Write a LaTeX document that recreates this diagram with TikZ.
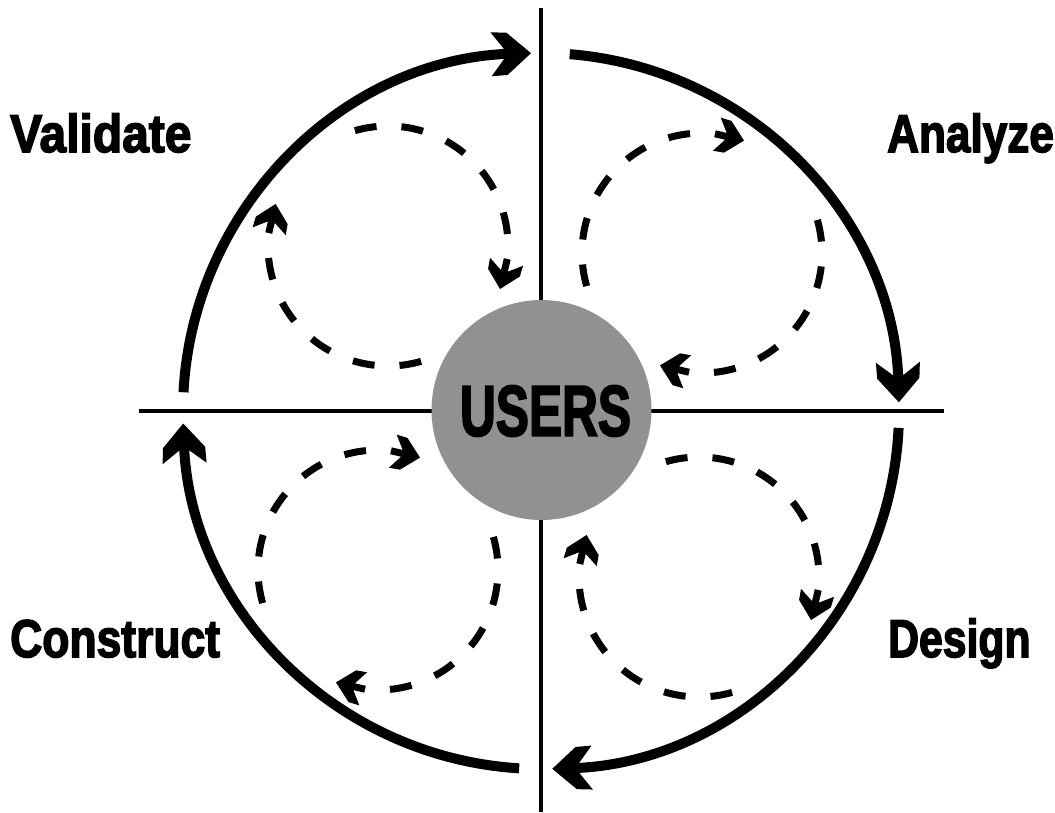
\documentclass[tikz,border=0pt]{standalone}
\usepackage{fontspec}
\setmainfont[FakeBold=3]{Liberation Sans}
\usetikzlibrary{arrows.meta}
\pgfdeclarearrow{
  name=Chev,
  parameters={\the\pgfarrowlength,\the\pgfarrowwidth},
  setup code={
    \pgfarrowssettipend{0pt}
    \pgfarrowssetlineend{-.5\pgfarrowlength}
    \pgfarrowssetvisualbackend{-\pgfarrowlength}
    \pgfarrowssetbackend{-\pgfarrowlength}
    \pgfarrowshullpoint{0pt}{0pt}
    \pgfarrowsupperhullpoint{-\pgfarrowlength}{.5\pgfarrowwidth}
  },
  drawing code={
    \pgfpathmoveto{\pgfqpoint{0pt}{0pt}}
    \pgfpathlineto{\pgfpoint{-.6\pgfarrowlength}{.48\pgfarrowwidth}}
    \pgfpathlineto{\pgfpoint{-\pgfarrowlength}{.5\pgfarrowwidth}}
    \pgfpathlineto{\pgfpoint{-.68\pgfarrowlength}{.12\pgfarrowwidth}}
    \pgfpathlineto{\pgfpoint{-.68\pgfarrowlength}{-.12\pgfarrowwidth}}
    \pgfpathlineto{\pgfpoint{-\pgfarrowlength}{-.5\pgfarrowwidth}}
    \pgfpathlineto{\pgfpoint{-.6\pgfarrowlength}{-.48\pgfarrowwidth}}
    \pgfpathclose
    \pgfusepathqfill
  },
  defaults={length=37pt,width=41pt}
}
\newcommand{\labtxt}[2]{\scalebox{#1}[1.52]{\fontsize{35}{38}\selectfont\bfseries #2}}
\begin{document}
\begin{tikzpicture}[x=1pt,y=-1pt,
 axis/.style={line width=4pt,black},
 big/.style={line width=10pt,black,-{Chev[length=40pt,width=44pt]}},
 loopl/.style={line width=7pt,black,dash pattern=on 22pt off 25pt,-{Chev[length=28pt,width=34pt]}},
 lab/.style={inner sep=0pt,anchor=base west}]
\useasboundingbox (0,0) rectangle (1055,812);
\fill[white] (0,0) rectangle (1055,812);
\coordinate (t) at (541,8); \coordinate (b) at (541,812);
\coordinate (l) at (139,411); \coordinate (r) at (944,411);
\coordinate (o) at (541,411);
\coordinate (ctl) at (388,246); \coordinate (ctr) at (702,253);
\coordinate (cbl) at (378,570); \coordinate (cbr) at (699,577);
\draw[axis] (t)--(b);
\draw[axis] (l)--(r);
\node[circle,fill=black!43,minimum size=220pt,inner sep=0pt] (u) at (541.5,410) {};
\node[inner sep=0pt] at (545.5,411) {\resizebox{171pt}{50pt}{\fontsize{50}{52}\selectfont\bfseries USERS}};
\node[lab] (v) at (10,152) {\labtxt{1.37}{Validate}};
\node[lab] (a) at (887,152) {\labtxt{1.26}{Analyze}};
\node[lab] (c) at (10,657) {\labtxt{1.27}{Construct}};
\node[lab] (d) at (888,657) {\labtxt{1.22}{Design}};
\draw[big] (o) ++(-177:358) arc[start angle=-177,end angle=-91.6,radius=358];
\draw[big] (o) ++(-85.4:358) arc[start angle=-85.4,end angle=-1.4,radius=358];
\draw[big] (o) ++(2.7:358) arc[start angle=2.7,end angle=88.2,radius=358];
\draw[big] (o) ++(93.5:358) arc[start angle=93.5,end angle=178,radius=358];
\draw[loopl] (ctl) ++(-106:120) arc[start angle=-106,end angle=6,radius=120] -- ([shift={(ctl)}]21:120);
\draw[loopl] (ctl) ++(74:120) arc[start angle=74,end angle=186,radius=120] -- ([shift={(ctl)}]200.5:120);
\draw[loopl] (cbr) ++(-106:120) arc[start angle=-106,end angle=6,radius=120] -- ([shift={(cbr)}]21:120);
\draw[loopl] (cbr) ++(74:120) arc[start angle=74,end angle=186,radius=120] -- ([shift={(cbr)}]200.5:120);
\draw[loopl] (ctr) ++(164:120) arc[start angle=164,end angle=276,radius=120] -- ([shift={(ctr)}]290.5:120);
\draw[loopl] (ctr) ++(-16:120) arc[start angle=-16,end angle=96,radius=120] -- ([shift={(ctr)}]110.5:120);
\draw[loopl] (cbl) ++(164:120) arc[start angle=164,end angle=276,radius=120] -- ([shift={(cbl)}]290.5:120);
\draw[loopl] (cbl) ++(-16:120) arc[start angle=-16,end angle=96,radius=120] -- ([shift={(cbl)}]110.5:120);
\end{tikzpicture}
\end{document}
